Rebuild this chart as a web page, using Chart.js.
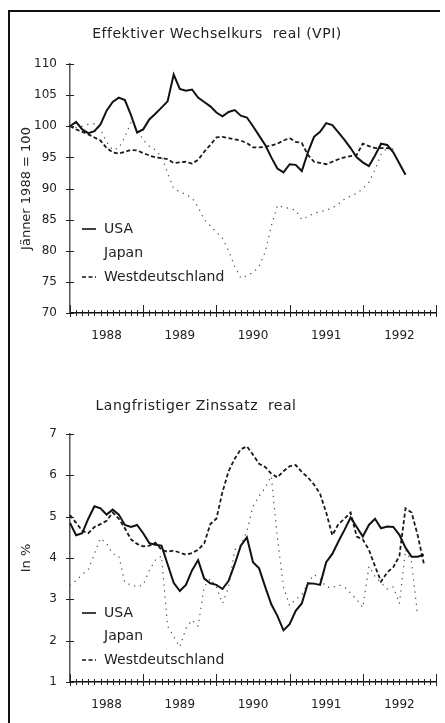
<!DOCTYPE html>
<html>
<head>
<meta charset="utf-8">
<script src="https://cdn.jsdelivr.net/npm/chart.js@4"></script>
<style>
  html, body { margin: 0; background: #fff; overflow: hidden; }
  #page { position: relative; width: 445px; height: 723px; overflow: hidden; background: #fff; }
  .rule { position: absolute; background: #111; }
  canvas { position: absolute; left: 0; }
  .title { position: absolute; font: 14px "DejaVu Sans"; letter-spacing: 0.5px; color: #222; white-space: pre; transform: translate(-50%, -50%); }
</style>
</head>
<body>
<div id="page">
  <div class="rule" style="left:8px; top:10px; width:432px; height:2px"></div>
  <div class="rule" style="left:8px; top:10px; width:2px; height:713px"></div>
  <canvas id="wechselkurs" width="445" height="350" style="top:0"></canvas>
  <canvas id="zinssatz" width="445" height="373" style="top:350px"></canvas>
  <div class="title" style="left:217px; top:33px">Effektiver Wechselkurs  real (VPI)</div>
  <div class="title" style="left:196px; top:405px">Langfristiger Zinssatz  real</div>
</div>
<script>
// years on the x axis, monthly data from Jan 1988
const yearLabels = ["1988", "1989", "1990", "1991", "1992"];
const seriesNames = ["USA", "Japan", "Westdeutschland"];

// effective real exchange rate, Jan 1988 = 100
const usaRate = [100, 100.7, 99.5, 98.9, 99.2, 100.3, 102.5, 103.9, 104.6, 104.2, 101.8, 99,
  99.5, 101.1, 102, 103, 104, 108.3, 106, 105.7, 105.9, 104.6, 103.9, 103.2,
  102.2, 101.6, 102.3, 102.6, 101.7, 101.4, 100, 98.5, 97, 95, 93.2, 92.6,
  93.9, 93.8, 92.8, 95.8, 98.3, 99.1, 100.5, 100.2, 99, 97.8, 96.5, 95,
  94.2, 93.6, 95.3, 97.2, 97, 95.8, 94, 92.2];
const japanRate = [100, 99.8, 100, 100.3, 100.4, 99.5, 97.5, 96.2, 96.5, 98.3, 100.6, 99.5,
  97.8, 96.8, 96.2, 95.1, 92.5, 90, 89.5, 89, 88.5, 87, 85, 84,
  83, 82, 80, 77.5, 75.6, 76, 76.5, 77.5, 79.8, 84, 87.3, 87,
  86.8, 86.5, 85, 85.5, 86, 86.3, 86.5, 86.9, 87.5, 88.3, 88.8, 89.2,
  90, 91, 93, 95.5, 96.5, 96.5];
const westRate = [100, 99.5, 99.1, 98.7, 98.2, 97.7, 96.5, 95.8, 95.6, 95.9, 96.2, 96.1,
  95.7, 95.3, 95, 94.9, 94.7, 94.1, 94.2, 94.3, 94, 94.6, 95.9, 97,
  98.2, 98.3, 98.1, 97.9, 97.7, 97.3, 96.6, 96.6, 96.7, 96.9, 97.2, 97.7,
  98.1, 97.5, 97.3, 95.4, 94.3, 94.1, 93.9, 94.3, 94.7, 95, 95.2, 95.4,
  97.2, 96.8, 96.5, 96.5, 96.5, 96.3];

// long-term real interest rate, in %
const usaZins = [4.85, 4.55, 4.6, 4.95, 5.25, 5.2, 5.05, 5.17, 5.05, 4.8, 4.75, 4.8,
  4.6, 4.36, 4.32, 4.3, 3.85, 3.4, 3.2, 3.35, 3.7, 3.95, 3.5, 3.39,
  3.35, 3.25, 3.45, 3.85, 4.3, 4.5, 3.9, 3.75, 3.3, 2.88, 2.6, 2.25,
  2.4, 2.72, 2.9, 3.39, 3.38, 3.35, 3.9, 4.1, 4.4, 4.68, 4.98, 4.75,
  4.52, 4.8, 4.95, 4.72, 4.76, 4.75, 4.56, 4.25, 4.03, 4.03, 4.08];
const japanZins = [3.35, 3.45, 3.6, 3.72, 4.1, 4.48, 4.35, 4.1, 4.05, 3.4, 3.35, 3.3,
  3.35, 3.7, 3.95, 4.05, 2.35, 2.1, 1.85, 2.3, 2.5, 2.35, 3.3, 3.5,
  3.3, 2.9, 3.3, 4.2, 4.3, 4.65, 5.25, 5.5, 5.7, 5.98, 4.5, 3.3,
  2.85, 3.0, 3.1, 3.4, 3.6, 3.5, 3.3, 3.28, 3.35, 3.3, 3.15, 3.0,
  2.8, 3.8, 3.55, 3.4, 3.25, 3.3, 2.9, 4.2, 3.9, 2.6];
const westZins = [5.04, 4.85, 4.66, 4.6, 4.75, 4.82, 4.9, 5.1, 4.95, 4.72, 4.45, 4.34,
  4.28, 4.3, 4.37, 4.2, 4.15, 4.18, 4.13, 4.08, 4.12, 4.2, 4.35, 4.82,
  4.95, 5.6, 6.1, 6.4, 6.63, 6.7, 6.5, 6.28, 6.2, 6.04, 5.95, 6.1,
  6.22, 6.25, 6.08, 5.95, 5.78, 5.55, 5.1, 4.55, 4.82, 4.95, 5.1, 4.52,
  4.45, 4.2, 3.8, 3.43, 3.65, 3.78, 4.05, 5.2, 5.1, 4.55, 3.87];

// one label per month plus the closing tick of Jan 1993
const monthLabels = [];
yearLabels.forEach(y => { for (let m = 1; m <= 12; m++) monthLabels.push(y + "-" + m); });
monthLabels.push("1993-1");

const FONT = "DejaVu Sans";

// monthly ticks crossing the x axis, taller ones at year ends; ticks on y at labels
const axisMarks = {
  id: "axisMarks",
  afterDraw(chart) {
    const { ctx, chartArea, scales } = chart;
    ctx.save();
    ctx.strokeStyle = "#222";
    ctx.lineWidth = 1;
    for (let i = 0; i < monthLabels.length; i++) {
      const x = Math.round(scales.x.getPixelForValue(i)) + 0.5;
      const major = i % 12 === 0;
      ctx.beginPath();
      ctx.moveTo(x, chartArea.bottom - (major ? 8 : 3));
      ctx.lineTo(x, chartArea.bottom + (major ? 4 : 3));
      ctx.stroke();
    }
    scales.y.ticks.forEach(t => {
      const y = Math.round(scales.y.getPixelForValue(t.value)) + 0.5;
      ctx.beginPath();
      ctx.moveTo(chartArea.left - 4, y);
      ctx.lineTo(chartArea.left + 4, y);
      ctx.stroke();
    });
    ctx.restore();
  }
};

// legend written inside the plot, bottom left
const innerLegend = {
  id: "innerLegend",
  afterDraw(chart, args, opts) {
    const { ctx, chartArea } = chart;
    ctx.save();
    ctx.font = "14px " + FONT;
    ctx.fillStyle = "#222";
    ctx.textBaseline = "middle";
    chart.data.datasets.forEach((ds, i) => {
      const y = chartArea.top + opts.rows[i];
      const x0 = chartArea.left + 12;
      if (ds.label !== "Japan") {
        ctx.strokeStyle = "#111";
        ctx.lineWidth = 1.6;
        ctx.setLineDash(ds.borderDash || []);
        ctx.beginPath();
        ctx.moveTo(x0, y);
        ctx.lineTo(x0 + 14, y);
        ctx.stroke();
      }
      ctx.fillText(ds.label, chartArea.left + 34, y);
    });
    ctx.restore();
  }
};

function makeChart(id, data, yMin, yMax, yStep, yTitle, top, bottomPad, legendRows) {
  return new Chart(document.getElementById(id), {
    type: "line",
    data: {
      labels: monthLabels,
      datasets: [
        { label: seriesNames[0], data: data[0], borderColor: "#111", borderWidth: 2 },
        { label: seriesNames[1], data: data[1], borderColor: "#555", borderWidth: 1.4,
          borderDash: [0.1, 6], borderCapStyle: "round" },
        { label: seriesNames[2], data: data[2], borderColor: "#1a1a1a", borderWidth: 1.8,
          borderDash: [4, 2.5] }
      ]
    },
    options: {
      responsive: false,
      animation: false,
      layout: { padding: { left: 0, right: 9, top: top, bottom: 0 } },
      elements: { point: { radius: 0 }, line: { tension: 0 } },
      plugins: { legend: { display: false }, tooltip: { enabled: false },
        innerLegend: { rows: legendRows } },
      scales: {
        x: {
          offset: false,
          grid: { display: false },
          border: { display: true, color: "#111", width: 1.5 },
          ticks: {
            autoSkip: false, maxRotation: 0, padding: 8,
            color: "#222", font: { family: FONT, size: 12 },
            callback: (v, i) => (i % 12 === 6 ? yearLabels[Math.floor(i / 12)] : "")
          },
          afterFit: s => { s.height = bottomPad; }
        },
        y: {
          min: yMin, max: yMax,
          grid: { display: false },
          border: { display: true, color: "#555", width: 1.5 },
          ticks: { stepSize: yStep, padding: 5, color: "#222", font: { family: FONT, size: 12 } },
          title: { display: true, text: yTitle, color: "#222",
            font: { family: FONT, size: 13 }, padding: { top: 19, bottom: 0 } },
          afterFit: s => { s.width = 70; }
        }
      }
    },
    plugins: [axisMarks, innerLegend]
  });
}

makeChart("wechselkurs", [usaRate, japanRate, westRate], 70, 110, 5,
  "Jänner 1988 = 100", 64, 37, [165, 189, 213]);
makeChart("zinssatz", [usaZins, japanZins, westZins], 1, 7, 1,
  "In %", 84, 41, [179, 202, 226]);
</script>
</body>
</html>
